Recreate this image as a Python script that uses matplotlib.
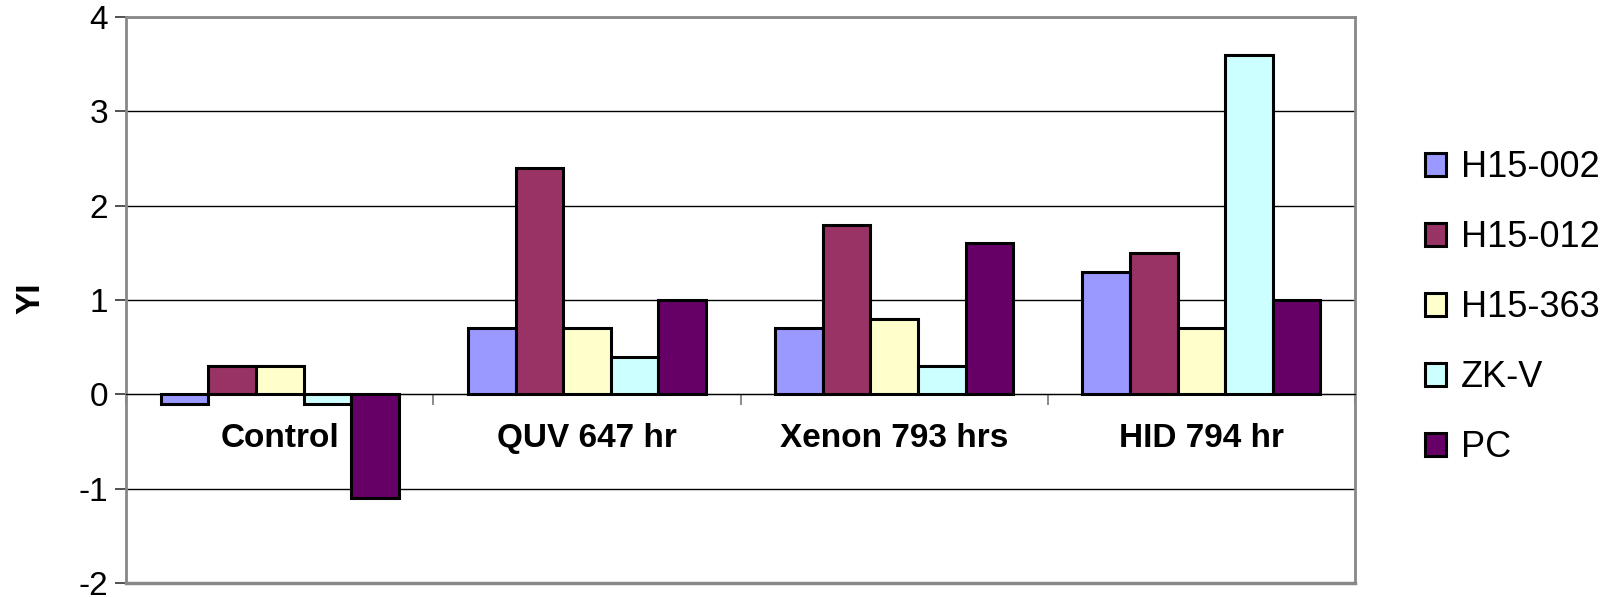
import matplotlib
matplotlib.use("Agg")
import matplotlib.pyplot as plt
import numpy as np

plt.rcParams["font.family"] = ["Liberation Sans", "DejaVu Sans"]
plt.rcParams["axes.unicode_minus"] = False

categories = ["Control", "QUV 647 hr", "Xenon 793 hrs", "HID 794 hr"]
series = ["H15-002", "H15-012", "H15-363", "ZK-V", "PC"]
h15_002 = [-0.1, 0.7, 0.7, 1.3]
h15_012 = [0.3, 2.4, 1.8, 1.5]
h15_363 = [0.3, 0.7, 0.8, 0.7]
zk_v = [-0.1, 0.4, 0.3, 3.6]
pc = [-1.1, 1.0, 1.6, 1.0]
values = [h15_002, h15_012, h15_363, zk_v, pc]
colors = ["#9999FF", "#993366", "#FFFFCC", "#CCFFFF", "#660066"]

fig = plt.figure(figsize=(16.08, 5.97), dpi=100)
ax = fig.add_axes([0.0784, 0.0235, 0.7643, 0.948])

x = np.arange(len(categories))
w = 0.155
for k, (name, vals, c) in enumerate(zip(series, values, colors)):
    ax.bar(x + (k - 2) * w, vals, w, color=c, edgecolor="black", lw=2.2,
           label=name, zorder=3)

ax.set_xlim(-0.5, len(categories) - 0.5)
ax.set_ylim(-2, 4)
ax.set_yticks(range(-2, 5))
ax.yaxis.grid(True, color="black", lw=1.0, zorder=1)
ax.tick_params(axis="y", labelsize=24, length=8, width=1.2, color="#333333", pad=5)

# category axis sits on the zero line
ax.spines["bottom"].set_position(("data", 0))
ax.spines["bottom"].set_color("black")
ax.set_xticks(np.arange(-0.5, len(categories), 1.0))
ax.set_xticklabels([])
ax.tick_params(axis="x", length=8, width=1.2, color="#777777")
for s in ("left", "top", "right"):
    ax.spines[s].set_color("#888888")
    ax.spines[s].set_linewidth(2)
ax.axhline(-2, color="#888888", lw=2.5, zorder=4, clip_on=False)

for i, cat in enumerate(categories):
    ax.text(i, -0.47, cat, ha="center", va="center", fontsize=24,
            fontweight="bold")

fig.text(0.019, 0.5, "YI", rotation=90, ha="center", va="center",
         fontsize=24, fontweight="bold")

ax.legend(loc="center left", bbox_to_anchor=(0.886, 0.485),
          bbox_transform=fig.transFigure, frameon=False, borderaxespad=0,
          borderpad=0, fontsize=26, handlelength=0.6, handleheight=0.6,
          handletextpad=0.4, labelspacing=0.97)

fig.savefig("out.png", dpi=100)
